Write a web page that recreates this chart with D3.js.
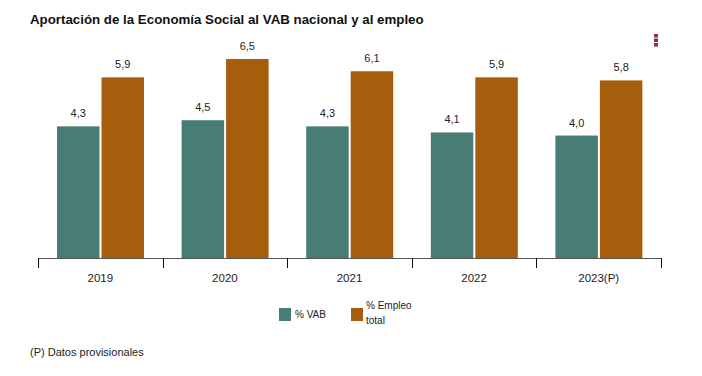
<!DOCTYPE html>
<html><head><meta charset="utf-8">
<script src="https://cdn.jsdelivr.net/npm/d3@7"></script>
<style>
body{margin:0;background:#fff;}
svg{display:block;font-family:"Liberation Sans",Arial,sans-serif;}
</style></head>
<body><svg id="c" width="702" height="376"></svg>
<script>
const categories = ["2019","2020","2021","2022","2023(P)"];
const vab = [4.3, 4.5, 4.3, 4.1, 4.0];
const empleo = [5.9, 6.5, 6.1, 5.9, 5.8];
const seriesNames = ["% VAB", "% Empleo total"];
const colors = ["#477d75", "#a65d0c"];
const fmt = v => v.toFixed(1).replace(".", ",");

const svg = d3.select("#c");
const x = d3.scaleBand().domain(categories).range([38, 661]);
const y = d3.scaleLinear().domain([0, 6.5]).range([258, 59]);

svg.append("text").attr("x", 30).attr("y", 24)
  .attr("font-size", 13.3).attr("font-weight", "bold").attr("fill", "#111")
  .text("Aportación de la Economía Social al VAB nacional y al empleo");

// menu icon
[0,1,2].forEach(i => svg.append("rect").attr("x", 654).attr("y", 34 + i*4.5)
  .attr("width", 4).attr("height", 3.5).attr("fill", "#8e2a4c"));

const series = [vab, empleo];
const bw = 42.5, gap = 2;
categories.forEach((c, i) => {
  series.forEach((s, k) => {
    const bx = x(c) + 19 + k * (bw + gap);
    svg.append("rect").attr("x", bx).attr("y", y(s[i]))
      .attr("width", bw).attr("height", y(0) - y(s[i])).attr("fill", colors[k]);
    svg.append("text").attr("x", bx + bw/2).attr("y", y(s[i]) - 9)
      .attr("text-anchor", "middle").attr("font-size", 11).attr("fill", "#222")
      .text(fmt(s[i]));
  });
});

// axis
const ax = svg.append("g");
ax.append("line").attr("x1", 38).attr("x2", 661).attr("y1", 258.5).attr("y2", 258.5)
  .attr("stroke", "#555").attr("stroke-width", 1);
const edges = categories.map(c => x(c)).concat([x.range()[1]]);
edges.forEach(e => ax.append("line").attr("x1", Math.round(e)+0.5).attr("x2", Math.round(e)+0.5)
  .attr("y1", 258).attr("y2", 268).attr("stroke", "#111"));
categories.forEach(c => ax.append("text").attr("x", x(c) + x.bandwidth()/2).attr("y", 282)
  .attr("text-anchor", "middle").attr("font-size", 11.5).attr("fill", "#222").text(c));

// legend
svg.append("rect").attr("x", 279).attr("y", 308).attr("width", 12).attr("height", 13).attr("fill", colors[0]);
svg.append("text").attr("x", 295).attr("y", 318).attr("font-size", 10).attr("fill", "#222").text(seriesNames[0]);
svg.append("rect").attr("x", 351).attr("y", 308).attr("width", 12).attr("height", 13).attr("fill", colors[1]);
const lt = svg.append("text").attr("x", 366).attr("y", 309).attr("font-size", 10).attr("fill", "#222");
lt.append("tspan").attr("x", 366).text("% Empleo");
lt.append("tspan").attr("x", 366).attr("dy", 15).text("total");

svg.append("text").attr("x", 30).attr("y", 356).attr("font-size", 11).attr("fill", "#222")
  .text("(P) Datos provisionales");
</script></body></html>
